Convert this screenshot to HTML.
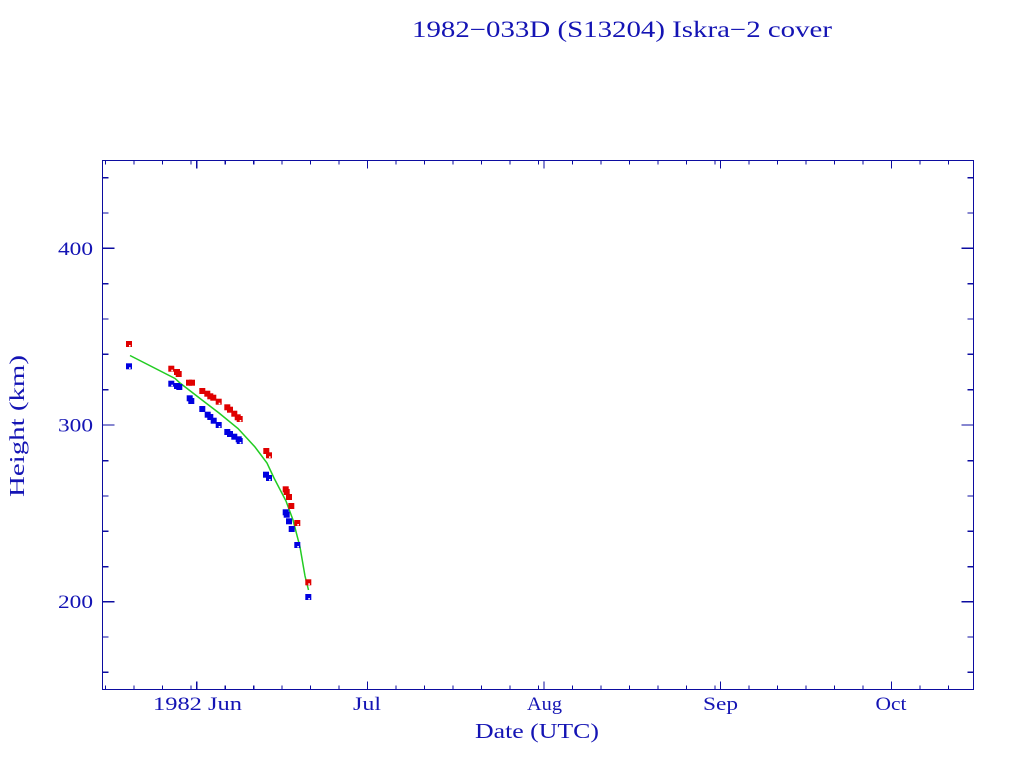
<!DOCTYPE html>
<html><head><meta charset="utf-8"><style>
html,body{margin:0;padding:0;background:#fff;}
svg{display:block;}
text{font-family:"Liberation Serif",serif;fill:#1414b4;}
</style></head><body>
<svg width="1024" height="768" viewBox="0 0 1024 768" xmlns="http://www.w3.org/2000/svg">
<rect width="1024" height="768" fill="#fff"/>
<text x="412" y="37" font-size="23" textLength="420" lengthAdjust="spacingAndGlyphs">1982−033D (S13204) Iskra−2 cover</text>
<g stroke="#0c0ca0" stroke-width="1.2" fill="none" shape-rendering="crispEdges">
<rect x="102.5" y="160.5" width="871" height="529"/>
<path d="M102.5 601.7h12M102.5 425h12M102.5 248.3h12M973.5 601.7h-12M973.5 425h-12M973.5 248.3h-12"/>
<path d="M102.5 672.3h6M102.5 637h6M102.5 566.7h6M102.5 531.3h6M102.5 496h6M102.5 460.7h6M102.5 389.7h6M102.5 354.3h6M102.5 319h6M102.5 283.7h6M102.5 213h6M102.5 177.7h6
M973.5 672.3h-6M973.5 637h-6M973.5 566.7h-6M973.5 531.3h-6M973.5 496h-6M973.5 460.7h-6M973.5 389.7h-6M973.5 354.3h-6M973.5 319h-6M973.5 283.7h-6M973.5 213h-6M973.5 177.7h-6"/>
<path d="M196.7 689.5v-8M367.5 689.5v-8M544.1 689.5v-8M720.6 689.5v-8M891.5 689.5v-8M196.7 160.5v8M367.5 160.5v8M544.1 160.5v8M720.6 160.5v8M891.5 160.5v8"/>
<path d="M105.6 689.5v-4M134.1 689.5v-4M162.6 689.5v-4M191 689.5v-4
M225.2 689.5v-4M253.7 689.5v-4M282.1 689.5v-4M310.6 689.5v-4M339.1 689.5v-4
M396 689.5v-4M424.5 689.5v-4M453 689.5v-4M481.5 689.5v-4M509.9 689.5v-4M538.4 689.5v-4
M572.6 689.5v-4M601 689.5v-4M629.5 689.5v-4M658 689.5v-4M686.5 689.5v-4M714.9 689.5v-4
M749.1 689.5v-4M777.6 689.5v-4M806 689.5v-4M834.5 689.5v-4M863 689.5v-4
M920 689.5v-4M948.5 689.5v-4
M105.6 160.5v4M134.1 160.5v4M162.6 160.5v4M191 160.5v4
M225.2 160.5v4M253.7 160.5v4M282.1 160.5v4M310.6 160.5v4M339.1 160.5v4
M396 160.5v4M424.5 160.5v4M453 160.5v4M481.5 160.5v4M509.9 160.5v4M538.4 160.5v4
M572.6 160.5v4M601 160.5v4M629.5 160.5v4M658 160.5v4M686.5 160.5v4M714.9 160.5v4
M749.1 160.5v4M777.6 160.5v4M806 160.5v4M834.5 160.5v4M863 160.5v4
M920 160.5v4M948.5 160.5v4"/>
</g>
<g font-size="18.5">
<text x="58" y="255" textLength="35" lengthAdjust="spacingAndGlyphs">400</text>
<text x="58" y="431.5" textLength="35" lengthAdjust="spacingAndGlyphs">300</text>
<text x="58" y="608" textLength="35" lengthAdjust="spacingAndGlyphs">200</text>
</g>
<g font-size="18.5">
<text x="153" y="710" textLength="89" lengthAdjust="spacingAndGlyphs">1982 Jun</text>
<text x="353" y="710" textLength="28" lengthAdjust="spacingAndGlyphs">Jul</text>
<text x="527" y="710" textLength="35" lengthAdjust="spacingAndGlyphs">Aug</text>
<text x="703" y="710" textLength="35" lengthAdjust="spacingAndGlyphs">Sep</text>
<text x="875.5" y="710" textLength="31" lengthAdjust="spacingAndGlyphs">Oct</text>
</g>
<text x="475" y="738" font-size="21" textLength="124" lengthAdjust="spacingAndGlyphs">Date (UTC)</text>
<text transform="translate(24,497) rotate(-90)" font-size="21" textLength="142" lengthAdjust="spacingAndGlyphs">Height (km)</text>
<polyline fill="none" stroke="#22cc22" stroke-width="1.5" points="130,355.5 175,378.5 180,383 202,400 219,413 238,428.5 255,447 267,463 274,478 286,501 293,520 300,547 305,576 308.5,590"/>
<g fill="#e00000">
<rect x="126" y="341" width="6" height="6"/><rect x="168.3" y="365.7" width="6" height="6"/><rect x="174" y="369" width="6" height="6"/><rect x="175.7" y="371" width="6" height="6"/><rect x="186" y="379.7" width="6" height="6"/><rect x="189" y="379.7" width="6" height="6"/><rect x="199.3" y="388" width="6" height="6"/><rect x="204.3" y="390.7" width="6" height="6"/><rect x="207.3" y="393.3" width="6" height="6"/><rect x="210.3" y="394.7" width="6" height="6"/><rect x="215.7" y="398.7" width="6" height="6"/><rect x="224.3" y="404.3" width="6" height="6"/><rect x="227" y="406.7" width="6" height="6"/><rect x="231.3" y="410.7" width="6" height="6"/><rect x="234.7" y="414.3" width="6" height="6"/><rect x="236.7" y="416" width="6" height="6"/><rect x="263.3" y="448" width="6" height="6"/><rect x="266" y="452.3" width="6" height="6"/><rect x="282.7" y="486.3" width="6" height="6"/><rect x="283.7" y="489" width="6" height="6"/><rect x="286" y="494" width="6" height="6"/><rect x="288.3" y="503" width="6" height="6"/><rect x="294.3" y="520" width="6" height="6"/><rect x="305.3" y="579.3" width="6" height="6"/>
</g>
<g fill="#0000e0">
<rect x="126" y="363.3" width="6" height="6"/><rect x="168.3" y="380.7" width="6" height="6"/><rect x="174" y="383" width="6" height="6"/><rect x="176.3" y="384" width="6" height="6"/><rect x="186.7" y="395.3" width="6" height="6"/><rect x="188.3" y="398" width="6" height="6"/><rect x="199.3" y="406" width="6" height="6"/><rect x="204.7" y="411.7" width="6" height="6"/><rect x="207.3" y="414" width="6" height="6"/><rect x="210.7" y="417.7" width="6" height="6"/><rect x="215.7" y="422" width="6" height="6"/><rect x="224.3" y="429" width="6" height="6"/><rect x="227" y="431" width="6" height="6"/><rect x="231.3" y="433.7" width="6" height="6"/><rect x="235.7" y="436.3" width="6" height="6"/><rect x="236.7" y="438" width="6" height="6"/><rect x="263" y="471.7" width="6" height="6"/><rect x="266" y="475" width="6" height="6"/><rect x="282.7" y="509.3" width="6" height="6"/><rect x="283.7" y="511.7" width="6" height="6"/><rect x="286" y="518.3" width="6" height="6"/><rect x="288.7" y="526" width="6" height="6"/><rect x="294.3" y="542" width="6" height="6"/><rect x="305.3" y="594" width="6" height="6"/>
</g>
<g fill="#fff">
<rect x="129" y="345" width="1.6" height="1.6"/><rect x="129" y="367.3" width="1.6" height="1.6"/><rect x="308.3" y="583.3" width="1.6" height="1.6"/><rect x="308.3" y="598" width="1.6" height="1.6"/><rect x="297.3" y="524" width="1.6" height="1.6"/><rect x="297.3" y="546" width="1.6" height="1.6"/><rect x="269" y="456.3" width="1.6" height="1.6"/><rect x="269" y="479" width="1.6" height="1.6"/><rect x="239.7" y="420" width="1.6" height="1.6"/><rect x="239.7" y="442" width="1.6" height="1.6"/><rect x="218.7" y="402.7" width="1.6" height="1.6"/><rect x="218.7" y="426" width="1.6" height="1.6"/><rect x="171.3" y="369.7" width="1.6" height="1.6"/><rect x="171.3" y="384.7" width="1.6" height="1.6"/>
</g>
</svg>
</body></html>
